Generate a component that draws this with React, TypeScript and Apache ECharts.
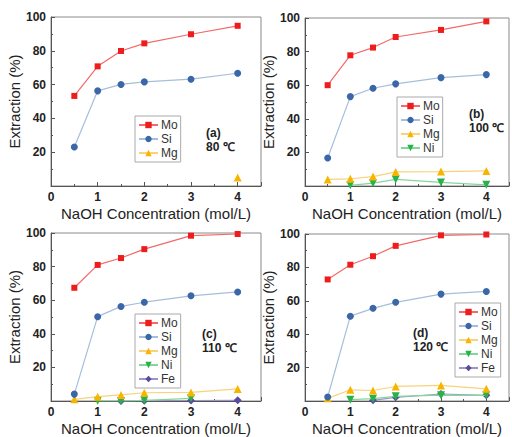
import React, { useEffect, useRef } from "react";
import * as echarts from "echarts";

const conc = [0.5, 1, 1.5, 2, 3, 4];
const xTickLabels = ["0", "1", "2", "3", "4"];
const yTickLabels = ["20", "40", "60", "80", "100"];

// (a) 80 ℃
const moA = [53.3, 70.8, 79.9, 84.4, 89.8, 94.8];
const siA = [23.1, 56.3, 60.1, 61.6, 63.2, 66.7];
const mgA = [null, null, null, null, null, 5.0];

// (b) 100 ℃
const moB = [60.0, 77.8, 82.4, 88.7, 92.9, 98.0];
const siB = [16.7, 53.2, 58.2, 60.8, 64.5, 66.3];
const mgB = [3.9, 4.3, 5.6, 8.4, 8.6, 9.0];
const niB = [null, 0.4, 1.7, 3.9, 2.1, 0.7];

// (c) 110 ℃
const moC = [67.4, 81.0, 85.1, 90.4, 98.4, 99.4];
const siC = [4.1, 50.2, 56.3, 58.8, 62.6, 64.9];
const mgC = [1.0, 2.6, 3.6, 4.9, 5.1, 7.2];
const niC = [null, 0.1, 0.0, 0.4, 1.6, null];
const feC = [null, null, 0.0, 0.2, 0.3, 0.4];

// (d) 120 ℃
const moD = [72.8, 81.6, 86.7, 92.9, 99.2, 99.7];
const siD = [2.4, 50.8, 55.5, 59.1, 64.0, 65.6];
const mgD = [1.6, 6.7, 6.3, 8.7, 9.3, 7.3];
const niD = [null, 0.8, 1.4, 2.8, 3.5, 3.4];
const feD = [null, null, 0.4, 2.2, 4.2, 3.4];

const panelLabels = ["(a)", "(b)", "(c)", "(d)"];
const tempLabels = ["80 ℃", "100 ℃", "110 ℃", "120 ℃"];

const STYLE: Record<string, { symbol: string; size: number; marker: string; line: string; rotate?: number }> = {
  Mo: { symbol: "rect", size: 6, marker: "#ee1c1c", line: "#f26a6a" },
  Si: { symbol: "circle", size: 7, marker: "#3b66a8", line: "#a6bedc" },
  Mg: { symbol: "triangle", size: 8, marker: "#f7b500", line: "#f9d27a" },
  Ni: { symbol: "triangle", size: 8, marker: "#27b24a", line: "#86d69c", rotate: 180 },
  Fe: { symbol: "diamond", size: 8, marker: "#5a4c9c", line: "#9d95c9" },
};

const panels = [
  { series: { Mo: moA, Si: siA, Mg: mgA } as Record<string, (number | null)[]>, grid: { left: 51, top: 17, width: 210, height: 169 }, legend: { left: 135, top: 116 }, txt: { x: 206, y1: 134, y2: 148 } },
  { series: { Mo: moB, Si: siB, Mg: mgB, Ni: niB } as Record<string, (number | null)[]>, grid: { left: 305, top: 18, width: 210, height: 168 }, legend: { left: 397, top: 97 }, txt: { x: 469, y1: 115, y2: 129 } },
  { series: { Mo: moC, Si: siC, Mg: mgC, Ni: niC, Fe: feC } as Record<string, (number | null)[]>, grid: { left: 51, top: 233, width: 210, height: 169 }, legend: { left: 135, top: 314 }, txt: { x: 202, y1: 335, y2: 349 } },
  { series: { Mo: moD, Si: siD, Mg: mgD, Ni: niD, Fe: feD } as Record<string, (number | null)[]>, grid: { left: 305, top: 234, width: 210, height: 168 }, legend: { left: 455, top: 303 }, txt: { x: 413, y1: 334, y2: 348 } },
];

export default function App() {
  const ref = useRef<HTMLDivElement>(null);
  useEffect(() => {
    if (!ref.current) return;
    const chart = echarts.init(ref.current, undefined, { renderer: "svg" });
    const font = "Liberation Sans, Arial, sans-serif";
    const grids: any[] = [];
    const xAxes: any[] = [];
    const yAxes: any[] = [];
    const series: any[] = [];
    const legends: any[] = [];
    const graphics: any[] = [];
    panels.forEach((p, i) => {
      grids.push({ ...p.grid, show: true, borderColor: "#8a8a8a", borderWidth: 1, containLabel: false });
      xAxes.push({
        type: "value", gridIndex: i, min: 0, max: 4.5, interval: 1,
        name: "NaOH Concentration (mol/L)", nameLocation: "middle", nameGap: 20,
        nameTextStyle: { fontFamily: font, fontSize: 15, color: "#222" },
        axisLine: { show: true, lineStyle: { color: "#555", width: 1 } },
        axisTick: { show: true, inside: true, length: 4, lineStyle: { color: "#555" } },
        minorTick: { show: true, splitNumber: 2, length: 2, lineStyle: { color: "#555" } },
        splitLine: { show: false },
        axisLabel: {
          fontFamily: font, fontSize: 12, fontWeight: "bold", color: "#222", margin: 5,
          formatter: (v: number) => (xTickLabels.includes(String(v)) ? String(v) : ""),
        },
      });
      yAxes.push({
        type: "value", gridIndex: i, min: 0, max: 100, interval: 20,
        name: "Extraction (%)", nameLocation: "middle", nameGap: 24,
        nameTextStyle: { fontFamily: font, fontSize: 15, color: "#222" },
        axisLine: { show: true, lineStyle: { color: "#555", width: 1 } },
        axisTick: { show: true, inside: true, length: 4, lineStyle: { color: "#555" } },
        minorTick: { show: true, splitNumber: 2, length: 2, lineStyle: { color: "#555" } },
        splitLine: { show: false },
        axisLabel: {
          fontFamily: font, fontSize: 12, fontWeight: "bold", color: "#222", margin: 5,
          formatter: (v: number) => (yTickLabels.includes(String(v)) ? String(v) : ""),
        },
      });
      const names = Object.keys(p.series);
      names.forEach((n) => {
        const st = STYLE[n];
        const vals = p.series[n];
        const data = conc.map((x, k) => [x, vals[k]]).filter((d) => d[1] !== null);
        series.push({
          name: n, type: "line", xAxisIndex: i, yAxisIndex: i, data,
          symbol: st.symbol, symbolSize: st.size, symbolRotate: st.rotate || 0,
          showAllSymbol: true,
          itemStyle: { color: st.marker },
          lineStyle: { color: st.line, width: 1.2 },
          z: 10 - names.indexOf(n),
        });
      });
      legends.push({
        data: names, orient: "vertical", left: p.legend.left, top: p.legend.top,
        itemWidth: 19, itemHeight: 8, itemGap: 2, padding: [3, 3, 3, 3],
        borderColor: "#aaa", borderWidth: 1, backgroundColor: "#fff",
        selectedMode: false,
        textStyle: { fontFamily: font, fontSize: 12, color: "#333", lineHeight: 12, padding: [0, 0, 0, -2] },
      });
      graphics.push({
        type: "text", left: p.txt.x, top: p.txt.y1 - 7,
        style: { text: panelLabels[i], font: `bold 12px ${font}`, fill: "#222" },
      });
      graphics.push({
        type: "text", left: p.txt.x, top: p.txt.y2 - 7,
        style: { text: tempLabels[i], font: `bold 12px ${font}`, fill: "#222" },
      });
    });
    chart.setOption({
      animation: false,
      backgroundColor: "#fff",
      grid: grids,
      xAxis: xAxes,
      yAxis: yAxes,
      series,
      legend: legends,
      graphic: graphics,
    });
    return () => chart.dispose();
  }, []);
  return <div ref={ref} style={{ position: "fixed", left: 0, top: 0, width: 512, height: 437 }} />;
}
